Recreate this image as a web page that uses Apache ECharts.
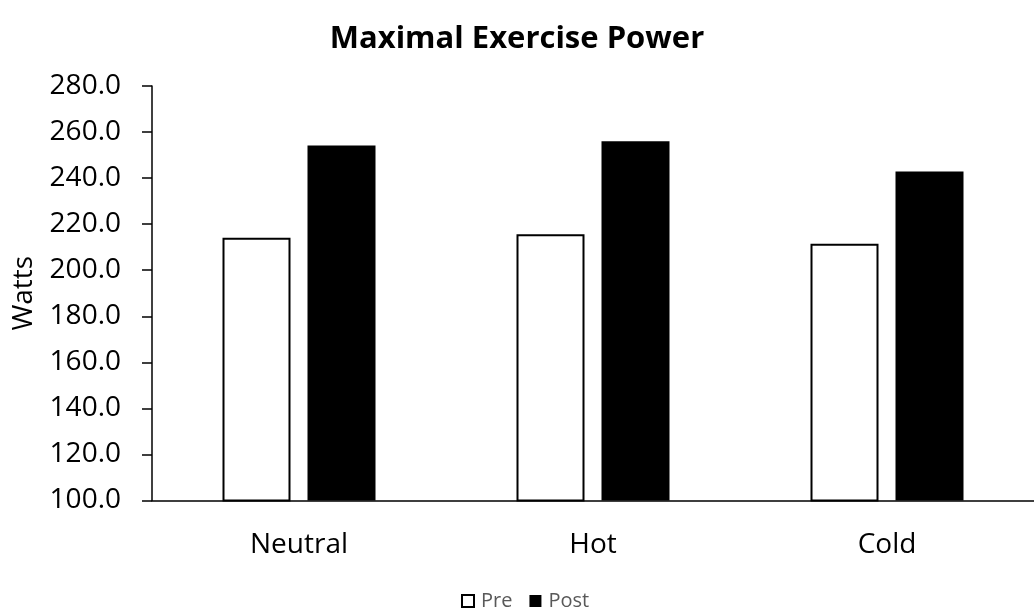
<!DOCTYPE html>
<html>
<head>
<meta charset="utf-8">
<script src="https://cdn.jsdelivr.net/npm/echarts@6/dist/echarts.min.js"></script>
<style>
  html, body { margin: 0; padding: 0; background: #fff; }
  #chart { width: 1034px; height: 609px; }
</style>
</head>
<body>
<div id="chart"></div>
<script>
// Conditions and mean maximal power (W) before and after training
const categories = ['Neutral', 'Hot', 'Cold'];
const preValues = [214.1, 215.6, 211.5];
const postValues = [254.2, 256.0, 242.9];
const yTicks = { min: 100, max: 280, step: 20 };

const FONT = '"Open Sans", sans-serif';

const chart = echarts.init(document.getElementById('chart'), null, { renderer: 'canvas' });

chart.setOption({
  backgroundColor: '#ffffff',
  animation: false,
  title: {
    text: 'Maximal Exercise Power',
    left: 'center',
    top: 24,
    padding: 0,
    textStyle: { fontFamily: FONT, fontSize: 31, fontWeight: 'bold', color: '#000' }
  },
  legend: {
    left: 461,
    top: 591,
    padding: 0,
    itemWidth: 12,
    itemHeight: 12,
    itemGap: 17,
    icon: 'rect',
    textStyle: { fontFamily: FONT, fontSize: 20, color: '#595959', padding: [0, 0, 0, 2] },
    data: ['Pre', 'Post']
  },
  grid: { left: 152, top: 86, width: 891, height: 414.5, containLabel: false },
  xAxis: {
    type: 'category',
    data: categories,
    axisLine: { lineStyle: { color: '#000', width: 1.5 } },
    axisTick: { show: false },
    axisLabel: { fontFamily: FONT, fontSize: 28, color: '#000', margin: 31 }
  },
  yAxis: {
    type: 'value',
    min: yTicks.min,
    max: yTicks.max,
    interval: yTicks.step,
    name: 'Watts',
    nameLocation: 'middle',
    nameRotate: 90,
    nameGap: 114,
    nameTextStyle: { fontFamily: FONT, fontSize: 28, color: '#000' },
    axisLine: { show: true, lineStyle: { color: '#000', width: 1.5 } },
    axisTick: { show: true, inside: false, length: 10, lineStyle: { color: '#000', width: 1.5 } },
    splitLine: { show: false },
    axisLabel: {
      fontFamily: FONT, fontSize: 28, color: '#000', margin: 31,
      formatter: v => v.toFixed(1)
    }
  },
  series: [
    {
      name: 'Pre',
      type: 'bar',
      data: preValues,
      barWidth: 68,
      barGap: '25%',
      itemStyle: { color: '#fff', borderColor: '#000', borderWidth: 2 }
    },
    {
      name: 'Post',
      type: 'bar',
      data: postValues,
      barWidth: 68,
      itemStyle: { color: '#000', borderColor: '#000', borderWidth: 0 }
    }
  ]
});
</script>
</body>
</html>
